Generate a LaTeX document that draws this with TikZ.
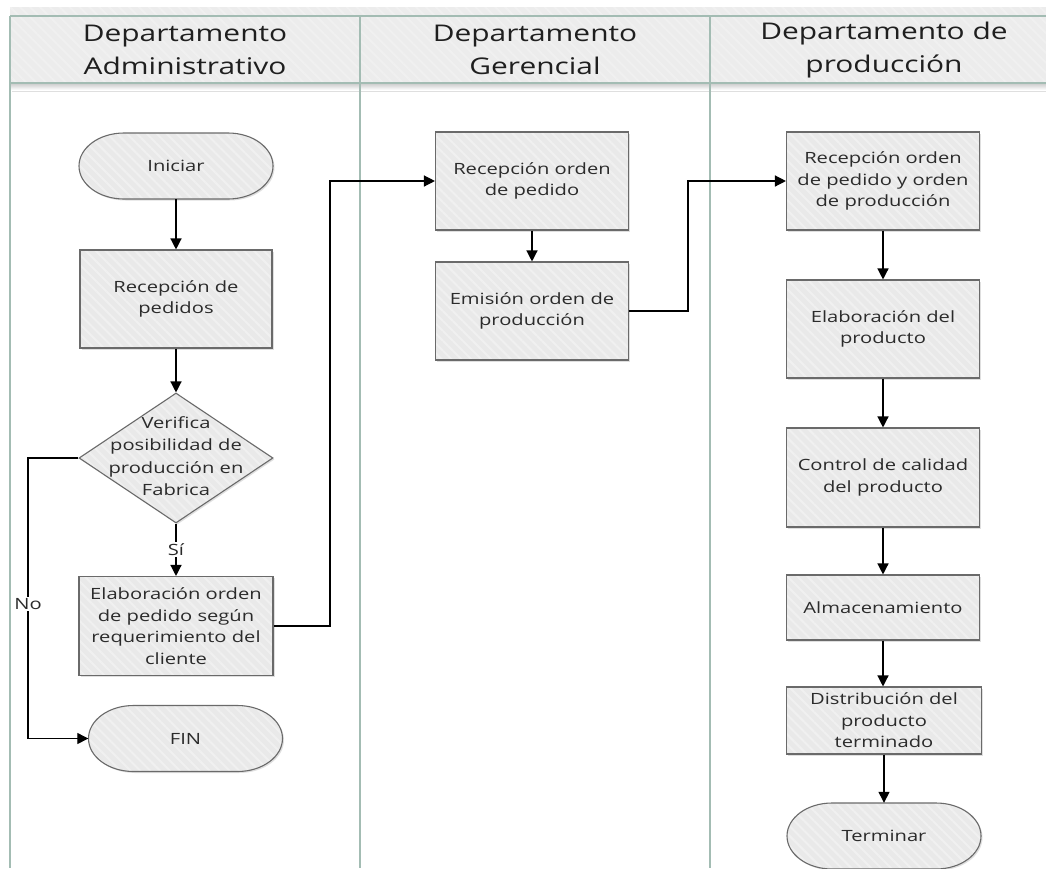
\documentclass[tikz,border=0pt]{standalone}
\usepackage{fontspec}
\setmainfont{Open Sans}[FakeStretch=1.3]
\usetikzlibrary{arrows.meta,shapes.geometric,shadows,patterns.meta}

\definecolor{laneline}{HTML}{A3BCB3}
\definecolor{headfill}{HTML}{ECECEC}
\definecolor{shapefill}{HTML}{E9E9E9}
\definecolor{hatch}{HTML}{F0F0F0}
\definecolor{shapeline}{HTML}{6A6A6A}
\definecolor{txt}{HTML}{2B2B2B}

% terminator: straight top and bottom, elliptic ends
\newcommand\terminal[4]{%
  \path[termshape] ({#2-52},{#3-33}) -- ({#2+52},{#3-33})
    arc[start angle=90,end angle=-90,x radius=45pt,y radius=33pt]
    -- ({#2-52},{#3+33})
    arc[start angle=270,end angle=90,x radius=45pt,y radius=33pt] -- cycle;
  \node[termtext] (#1) at (#2,#3) {#4};
}

\begin{document}
\begin{tikzpicture}[x=1pt,y=-1pt,
  hatched/.style={preaction={fill=shapefill},
    preaction={pattern={Lines[angle=-45,distance=7pt,line width=2pt]},pattern color=hatch}},
  shade/.style={drop shadow={opacity=0.25,shadow xshift=1.5pt,shadow yshift=-1.5pt}},
  bodyfont/.style={font=\fontsize{15.5}{21.5}\selectfont,text=txt,align=center},
  box/.style={shade,hatched,draw=shapeline,line width=1.1pt,bodyfont,
    minimum width=193pt,minimum height=98pt,inner sep=2pt},
  decision/.style={diamond,shade,hatched,draw=shapeline,line width=1.1pt,
    minimum width=194pt,minimum height=130pt,inner sep=0pt},
  termshape/.style={shade,hatched,draw=shapeline,line width=1.1pt},
  termtext/.style={bodyfont,minimum width=194pt,minimum height=66pt,inner sep=0pt},
  hdr/.style={font=\fontsize{23}{33}\selectfont,text=black!88,align=center},
  lanestroke/.style={draw=laneline,line width=1.6pt},
  flow/.style={draw=black,line width=1.3pt,-{Triangle[length=11pt,width=11pt]}},
  lbl/.style={bodyfont,fill=white,inner sep=1.5pt}
]
\useasboundingbox (0,0) rectangle (1046,868);
\fill[white] (0,0) rectangle (1046,868);

% pool header band
\path[fill=headfill,postaction={pattern={Lines[angle=-45,distance=7pt,line width=2pt]},pattern color=hatch}]
  (10,7) rectangle (1046,83);
\shade[top color=black!18,bottom color=white] (10,84) rectangle (1046,90);
\draw[lanestroke] (10,16) -- (1046,16);
\draw[lanestroke] (10,83) -- (1046,83);
\draw[lanestroke] (10,16) -- (10,868);
\draw[lanestroke] (360,16) -- (360,868);
\draw[lanestroke] (710,16) -- (710,868);

\node[hdr] (h1) at (185,50) {Departamento\\Administrativo};
\node[hdr] (h2) at (535,50) {Departamento\\Gerencial};
\node[hdr] (h3) at (884,50) {Departamento de\\producción};

% administrative lane
\terminal{ini}{176}{166}{Iniciar}
\node[box,minimum width=192pt] (rec) at (176,299) {Recepción de\\pedidos};
\node[decision] (dec) at (176,458) {};
\node[bodyfont,font=\fontsize{15.5}{22.5}\selectfont] (dectext) at (176,456)
  {Verifica\\posibilidad de\\producción en\\Fabrica};
\node[box,minimum width=194pt,minimum height=99pt] (elab) at (176,626)
  {Elaboración orden\\de pedido según\\requerimiento del\\cliente};
\terminal{fin}{185.5}{738.5}{FIN}

% management lane
\node[box] (rop) at (532,181) {Recepción orden\\de pedido};
\node[box] (emi) at (532,311) {Emisión orden de\\producción};

% production lane
\node[box] (rpp) at (883,181)
  {Recepción orden\\de pedido y orden\\de producción};
\node[box] (elp) at (883,329) {Elaboración del\\producto};
\node[box,minimum height=99pt] (cal) at (883,477.5)
  {Control de calidad\\del producto};
\node[box,minimum height=65pt] (alm) at (883,607.5) {Almacenamiento};
\node[box,minimum width=195pt,minimum height=67pt] (dis) at (884,720.5)
  {Distribución del\\producto\\terminado};
\terminal{ter}{884}{836}{Terminar}

% connectors
\coordinate (noTop) at (28,458);
\coordinate (noBot) at (28,738.5);
\coordinate (toMgr) at (330,181);
\coordinate (toProd) at (688,181);

\draw[flow] (ini.south) -- (rec.north);
\draw[flow] (rec.south) -- (dec.north);
\draw[flow] (dec.south) -- node[lbl] {Sí} (elab.north);
\draw[flow] (dec.west) -- (noTop) -- node[lbl,pos=0.52] {No} (noBot) -- (fin.west);
\draw[flow] (elab.east) -| (toMgr) -- (rop.west);
\draw[flow] (rop.south) -- (emi.north);
\draw[flow] (emi.east) -| (toProd) -- (rpp.west);
\draw[flow] (rpp.south) -- (elp.north);
\draw[flow] (elp.south) -- (cal.north);
\draw[flow] (cal.south) -- (alm.north);
\draw[flow] (alm.south) -- (alm.south |- dis.north);
\draw[flow] (dis.south) -- (ter.north);
\end{tikzpicture}
\end{document}
